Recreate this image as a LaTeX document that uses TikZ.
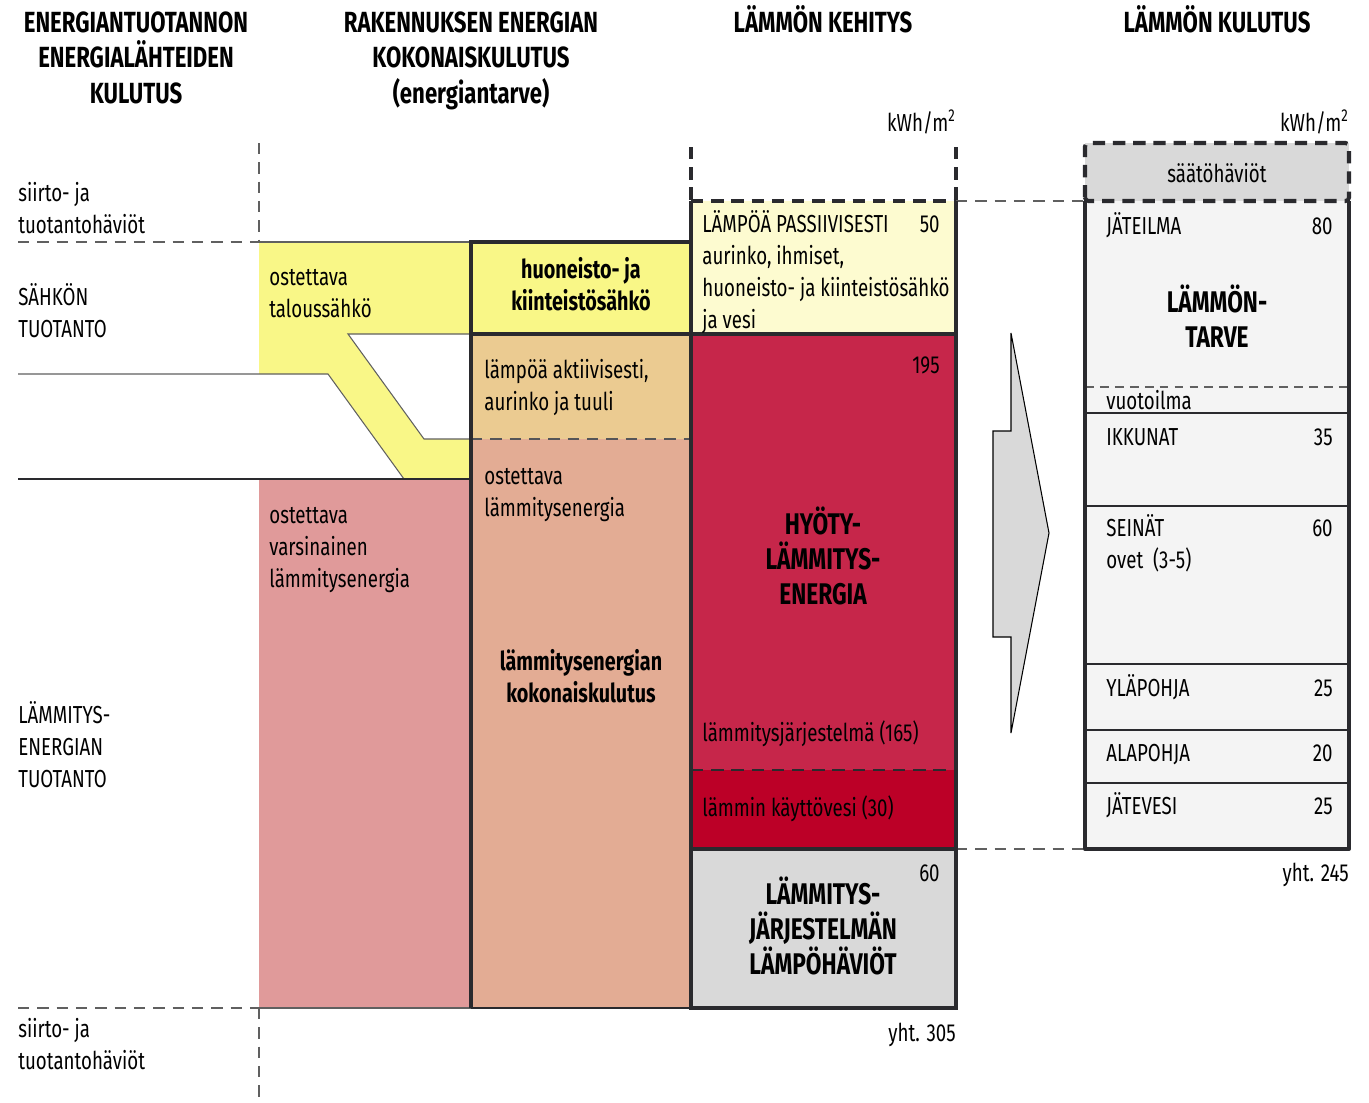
\documentclass[tikz,border=0pt]{standalone}
\usepackage{fontspec}
\setmainfont{Fira Sans}[FakeStretch=0.76]
\usetikzlibrary{positioning}
\definecolor{elyellow}{HTML}{F9F787}
\definecolor{tanbox}{HTML}{EBCB91}
\definecolor{salmon}{HTML}{E3AC94}
\definecolor{rosebox}{HTML}{E09A9A}
\definecolor{paleyellow}{HTML}{FDFBD0}
\definecolor{heatred}{HTML}{C6264A}
\definecolor{waterred}{HTML}{BC0027}
\definecolor{lossgray}{HTML}{D9D9D9}
\definecolor{needgray}{HTML}{F4F4F4}
\definecolor{boxdark}{HTML}{2A2A2E}
\definecolor{guidegray}{HTML}{606060}

\begin{document}
\begin{tikzpicture}[x=0.02cm, y=-0.02cm,
    lbl/.style={anchor=base west, inner sep=0pt, align=left, font=\fontsize{14}{18.1}\selectfont},
    num/.style={anchor=base east, inner sep=0pt, font=\fontsize{14}{18.1}\selectfont},
    head/.style={anchor=base, inner sep=0pt, align=center, font=\bfseries\fontsize{16.6}{20.2}\selectfont},
    big/.style={anchor=base, inner sep=0pt, align=center, font=\bfseries\fontsize{17}{19.9}\selectfont},
    mid/.style={anchor=base, inner sep=0pt, align=center, font=\bfseries\fontsize{14.8}{18.1}\selectfont},
    hair/.style={draw=boxdark, line width=0.6pt},
    guide/.style={draw=guidegray, line width=0.7pt, dash pattern=on 6.5pt off 4.5pt},
    heavy/.style={draw=boxdark, line width=2.3pt},
    heavydash/.style={heavy, dash pattern=on 7pt off 4.5pt}]
  \useasboundingbox (0,0) rectangle (1369,1102);

  % energy sources column
  \fill[elyellow] (259,242) -- (471,242) -- (471,334) -- (348,334) -- (424,439) -- (471,439)
    -- (471,479) -- (404,479) -- (328,374) -- (259,374) -- cycle;
  \fill[rosebox] (259,479) rectangle (471,1008);
  \draw[hair, draw=guidegray] (259,242) -- (471,242);
  \draw[hair, draw=guidegray] (471,334) -- (348,334) -- (424,439) -- (471,439);
  \draw[hair, draw=guidegray] (18,374) -- (328,374) -- (404,479);
  \draw[hair] (18,479) -- (471,479);
  \draw[hair, draw=guidegray] (259,1008) -- (471,1008);
  \draw[guide] (18,242) -- (259,242) (259,143) -- (259,242);
  \draw[guide] (18,1008) -- (259,1008) (259,1008) -- (259,1102);

  % building consumption column
  \fill[elyellow] (471,242) rectangle (691,334);
  \fill[tanbox] (471,334) rectangle (691,439);
  \fill[salmon] (471,439) rectangle (691,1008);
  \draw[guide, draw=boxdark!80] (471,439) -- (691,439);

  % heat generation column
  \fill[paleyellow] (691,201) rectangle (956,334);
  \fill[heatred] (691,334) rectangle (956,770);
  \fill[waterred] (691,770) rectangle (956,849);
  \fill[lossgray] (691,849) rectangle (956,1008);
  \draw[boxdark, line width=1.3pt, dash pattern=on 7pt off 4.5pt] (691,770) -- (956,770);
  \draw[guide] (956,201) -- (1085,201) (956,849) -- (1085,849);

  % heat consumption column
  \fill[lossgray] (1085,143) rectangle (1349,201);
  \fill[needgray] (1085,201) rectangle (1349,849);
  \draw[hair, dash pattern=on 5pt off 3.5pt, draw=guidegray] (1085,387) -- (1349,387);
  \foreach \yy in {413,506,664,730,783}
    \draw[hair] (1085,\yy) -- (1349,\yy);

  % box outlines
  \draw[heavy] (471,1008) -- (471,242) -- (691,242);
  \draw[hair, line width=1.2pt] (471,1008) -- (691,1008);
  \draw[heavy] (471,334) -- (956,334);
  \draw[heavy] (691,201) -- (691,1008) -- (956,1008) -- (956,201);
  \draw[heavy] (691,849) -- (956,849);
  \draw[heavydash] (691,147) -- (691,201) (956,147) -- (956,201) (691,201) -- (956,201);
  \draw[heavy, line join=round] (1085,201) -- (1085,849) -- (1349,849) -- (1349,201);
  \draw[heavydash, rounded corners=2pt] (1085,201) rectangle (1349,143);

  % arrow
  \filldraw[fill=lossgray, draw=black, line width=0.6pt] (1011,333) -- (1049,533) -- (1011,733)
    -- (1011,637) -- (993,637) -- (993,431) -- (1011,431) -- cycle;

  % headings (multi-line nodes sit on their last baseline)
  \node[head] (h_src) at (136,103) {ENERGIANTUOTANNON\\ENERGIALÄHTEIDEN\\KULUTUS};
  \node[head] (h_bldg) at (471,103) {RAKENNUKSEN ENERGIAN\\KOKONAISKULUTUS\\(energiantarve)};
  \node[head] (h_gen) at (823,32) {LÄMMÖN KEHITYS};
  \node[head] (h_use) at (1217,32) {LÄMMÖN KULUTUS};

  % side labels
  \node[lbl] (l_loss_top) at (18,233) {siirto- ja\\tuotantohäviöt};
  \node[lbl] (l_power) at (18,337) {SÄHKÖN\\TUOTANTO};
  \node[lbl] (l_heatprod) at (18,787) {LÄMMITYS-\\ENERGIAN\\TUOTANTO};
  \node[lbl] (l_loss_bot) at (18,1069) {siirto- ja\\tuotantohäviöt};

  % source texts
  \node[lbl] (s_elec) at (269,317) {ostettava\\taloussähkö};
  \node[lbl] (s_heat) at (269,587) {ostettava\\varsinainen\\lämmitysenergia};

  % building texts
  \node[mid] (b_elec) at (581,310) {huoneisto- ja\\kiinteistösähkö};
  \node[lbl] (b_active) at (484,410) {lämpöä aktiivisesti,\\aurinko ja tuuli};
  \node[lbl] (b_bought) at (484,516) {ostettava\\lämmitysenergia};
  \node[mid] (b_total) at (581,702) {lämmitysenergian\\kokonaiskulutus};

  % generation texts
  \node[num] (g_unit) at (956,131) {kWh/m\textsuperscript{2}};
  \node[lbl] (g_passive) at (702,328) {LÄMPÖÄ PASSIIVISESTI\\aurinko, ihmiset,\\huoneisto- ja kiinteistösähkö\\ja vesi};
  \node[num] (g_50) at (940,232) {50};
  \node[num] (g_195) at (940,373) {195};
  \node[big] (g_useful) at (823,604) {HYÖTY-\\LÄMMITYS-\\ENERGIA};
  \node[lbl] (g_system) at (702,741) {lämmitysjärjestelmä (165)};
  \node[lbl] (g_water) at (702,816) {lämmin käyttövesi (30)};
  \node[num] (g_60) at (940,881) {60};
  \node[big] (g_losses) at (823,974) {LÄMMITYS-\\JÄRJESTELMÄN\\LÄMPÖHÄVIÖT};
  \node[num] (g_sum) at (956,1041) {yht. 305};

  % consumption texts
  \node[num] (c_unit) at (1349,131) {kWh/m\textsuperscript{2}};
  \node[anchor=base, inner sep=0pt, font=\fontsize{14}{18.1}\selectfont] (c_control) at (1217,182) {säätöhäviöt};
  \node[lbl] (c_exhaust) at (1106,234) {JÄTEILMA};
  \node[num] (c_80) at (1333,234) {80};
  \node[big] (c_need) at (1217,347) {LÄMMÖN-\\TARVE};
  \node[lbl] (c_leak) at (1106,409) {vuotoilma};
  \node[lbl] (c_windows) at (1106,445) {IKKUNAT};
  \node[num] (c_35) at (1333,445) {35};
  \node[lbl] (c_walls) at (1106,568) {SEINÄT\\ovet\ \ (3-5)};
  \node[num] (c_60) at (1333,536) {60};
  \node[lbl] (c_roof) at (1106,696) {YLÄPOHJA};
  \node[num] (c_25a) at (1333,696) {25};
  \node[lbl] (c_floor) at (1106,761) {ALAPOHJA};
  \node[num] (c_20) at (1333,761) {20};
  \node[lbl] (c_waste) at (1106,814) {JÄTEVESI};
  \node[num] (c_25b) at (1333,814) {25};
  \node[num] (c_sum) at (1349,881) {yht. 245};
\end{tikzpicture}
\end{document}
